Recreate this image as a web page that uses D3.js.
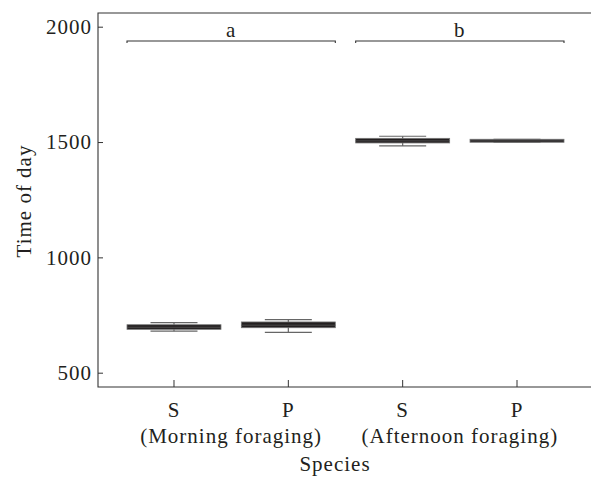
<!DOCTYPE html>
<html>
<head>
<meta charset="utf-8">
<script src="https://d3js.org/d3.v7.min.js"></script>
<style>
  body { margin: 0; background: #fff; }
  text { font-family: "Liberation Serif", "DejaVu Serif", serif; fill: #231f20; letter-spacing: 1px; }
</style>
</head>
<body>
<svg width="591" height="479"></svg>
<script>
// box summaries (time of day, hhmm)
const species = ["S", "P", "S", "P"];
const groups = ["(Morning foraging)", "(Afternoon foraging)"];
const letters = ["a", "b"];
const q1 = [688, 695, 1496, 1499];
const median = [697, 706, 1505, 1505];
const q3 = [708, 720, 1516, 1512];
const whiskLow = [680, 675, 1483, 1499];
const whiskHigh = [717, 730, 1525, 1512];
const yTicks = [500, 1000, 1500, 2000];

const svg = d3.select("svg");
const pl = 98, pr = 591, pt = 13, pb = 387;
const fs = "21px";
const keys = species.map((s, i) => s + i);

const x = d3.scaleBand().domain(keys).range([127, 564]).paddingInner(0.178).paddingOuter(0);
const y = d3.scaleLinear().domain([500, 2000]).range([372.7, 26.7]);
const bw = x.bandwidth();
const capW = bw * 0.5;

// frame (open on the right, like the cropped original)
svg.append("path")
  .attr("d", `M${pr},${pt}H${pl}V${pb}H${pr}`)
  .attr("fill", "none").attr("stroke", "#333").attr("stroke-width", 1.1);

// y axis, ticks inward
const ya = svg.append("g").attr("transform", `translate(${pl},0)`)
  .call(d3.axisLeft(y).tickValues(yTicks).tickFormat(d3.format("d"))
    .tickSizeInner(-5).tickSizeOuter(0).tickPadding(6));
ya.select(".domain").remove();
ya.selectAll("line").attr("stroke", "#333");
ya.selectAll("text").style("font-size", fs).attr("fill", "#231f20");

// x axis, ticks inward
const xa = svg.append("g").attr("transform", `translate(0,${pb})`)
  .call(d3.axisBottom(x).tickFormat((d, i) => species[i]).tickSizeInner(-7).tickSizeOuter(0).tickPadding(15));
xa.select(".domain").remove();
xa.selectAll("line").attr("stroke", "#333");
xa.selectAll("text").style("font-size", fs).attr("fill", "#231f20");

// group captions under each pair
groups.forEach((g, j) => {
  const cx = (x(keys[2 * j]) + x(keys[2 * j + 1]) + bw) / 2;
  svg.append("text").attr("x", cx).attr("y", 443).attr("text-anchor", "middle")
    .style("font-size", fs).text(g);
});

svg.append("text").attr("x", 335).attr("y", 471).attr("text-anchor", "middle")
  .style("font-size", fs).text("Species");

svg.append("text").attr("transform", "translate(31,201) rotate(-90)")
  .attr("text-anchor", "middle").style("font-size", fs).text("Time of day");

// boxes
const box = svg.selectAll("g.box").data(keys).join("g").attr("class", "box");
box.append("line")
  .attr("x1", d => x(d) + bw / 2).attr("x2", d => x(d) + bw / 2)
  .attr("y1", (d, i) => y(whiskLow[i])).attr("y2", (d, i) => y(whiskHigh[i]))
  .attr("stroke", "#666").attr("stroke-width", 1.2);
box.append("line")
  .attr("x1", d => x(d) + bw / 2 - capW / 2).attr("x2", d => x(d) + bw / 2 + capW / 2)
  .attr("y1", (d, i) => y(whiskLow[i])).attr("y2", (d, i) => y(whiskLow[i]))
  .attr("stroke", "#666").attr("stroke-width", 1.2);
box.append("line")
  .attr("x1", d => x(d) + bw / 2 - capW / 2).attr("x2", d => x(d) + bw / 2 + capW / 2)
  .attr("y1", (d, i) => y(whiskHigh[i])).attr("y2", (d, i) => y(whiskHigh[i]))
  .attr("stroke", "#666").attr("stroke-width", 1.2);
box.append("rect")
  .attr("x", d => x(d)).attr("width", bw)
  .attr("y", (d, i) => y(q3[i])).attr("height", (d, i) => y(q1[i]) - y(q3[i]))
  .attr("fill", "#231f20").attr("stroke", "#777").attr("stroke-width", 0.8);
box.append("line")
  .attr("x1", d => x(d)).attr("x2", d => x(d) + bw)
  .attr("y1", (d, i) => y(median[i])).attr("y2", (d, i) => y(median[i]))
  .attr("stroke", "#555").attr("stroke-width", 0.8);

// significance brackets
const by = 41;
letters.forEach((l, j) => {
  const x0 = x(keys[2 * j]), x1 = x(keys[2 * j + 1]) + bw;
  svg.append("path").attr("d", `M${x0},${by + 2}V${by}H${x1}V${by + 2}`)
    .attr("fill", "none").attr("stroke", "#333").attr("stroke-width", 1.1);
  svg.append("text").attr("x", (x0 + x1) / 2).attr("y", by - 4).attr("text-anchor", "middle")
    .style("font-size", fs).text(l);
});
</script>
</body>
</html>
